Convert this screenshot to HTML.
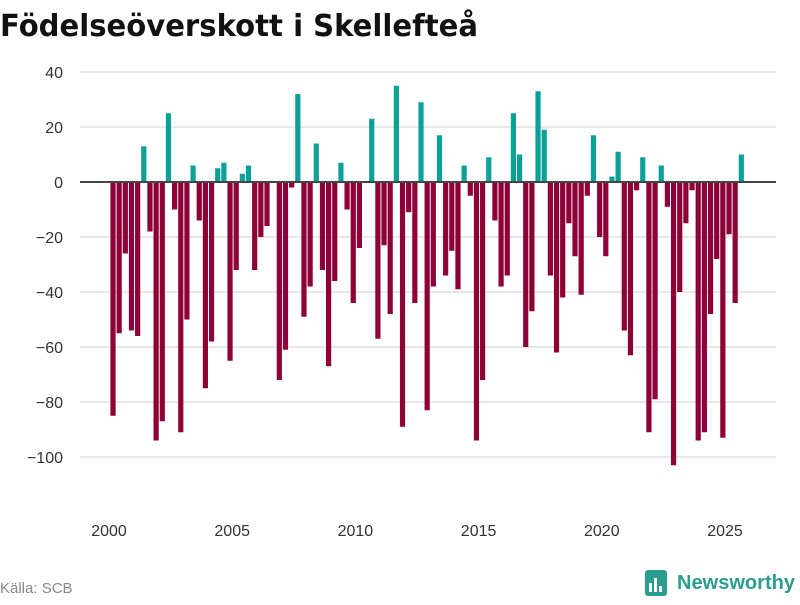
<!DOCTYPE html>
<html><head><meta charset="utf-8">
<style>
body{margin:0;width:800px;height:600px;background:#fff;font-family:"Liberation Sans","DejaVu Sans",sans-serif;overflow:hidden}
</style></head>
<body>
<svg width="800" height="600" xmlns="http://www.w3.org/2000/svg">
<text x="0" y="36" font-size="30" font-weight="bold" fill="#111" font-family="DejaVu Sans, sans-serif" textLength="478" lengthAdjust="spacingAndGlyphs">Födelseöverskott i Skellefteå</text>
<g id="grid"></g>
<g id="bars"></g>
<line x1="80" x2="776" y1="182" y2="182" stroke="#444" stroke-width="2"/>
<g id="xt"></g>
<text x="0" y="593" font-size="15" fill="#888">Källa: SCB</text>
<g>
<rect x="645" y="570" width="22" height="26" rx="3" fill="#2a9d8f"/>
<rect x="649" y="583" width="3" height="9" fill="#fff"/><rect x="654" y="578" width="3" height="14" fill="#fff"/><rect x="659" y="586" width="3" height="6" fill="#fff"/>
<text x="677" y="589" font-size="20" font-weight="bold" fill="#2a9d8f" textLength="118" lengthAdjust="spacingAndGlyphs">Newsworthy</text>
</g>
</svg>
<script>
const values=[-85,-55,-26,-54,-56,13,-18,-94,-87,25,-10,-91,-50,6,-14,-75,-58,5,7,-65,-32,3,6,-32,-20,-16,0,-72,-61,-2,32,-49,-38,14,-32,-67,-36,7,-10,-44,-24,0,23,-57,-23,-48,35,-89,-11,-44,29,-83,-38,17,-34,-25,-39,6,-5,-94,-72,9,-14,-38,-34,25,10,-60,-47,33,19,-34,-62,-42,-15,-27,-41,-5,17,-20,-27,2,11,-54,-63,-3,9,-91,-79,6,-9,-103,-40,-15,-3,-94,-91,-48,-28,-93,-19,-44,10];
const startYear=2000;
const yTicks=[40,20,0,-20,-40,-60,-80,-100];
const xTicks=[2000,2005,2010,2015,2020,2025];
const NS="http://www.w3.org/2000/svg";
function y(v){return 182-v*2.75;}
function x(t){return 109+(t-2000)*24.64;}
const grid=document.getElementById('grid');
yTicks.forEach(t=>{
 const l=document.createElementNS(NS,'line');
 l.setAttribute('x1',80);l.setAttribute('x2',776);l.setAttribute('y1',y(t));l.setAttribute('y2',y(t));
 l.setAttribute('stroke','#e0e0e0');l.setAttribute('stroke-width','1.5');
 
 
 grid.appendChild(l);
 const tx=document.createElementNS(NS,'text');
 tx.setAttribute('x',63);tx.setAttribute('y',y(t)+6);tx.setAttribute('text-anchor','end');
 tx.setAttribute('font-size','16');tx.setAttribute('fill','#333');
 tx.textContent=t<0?'−'+(-t):String(t);
 
 
 grid.appendChild(tx);
});
const bars=document.getElementById('bars');
values.forEach((v,i)=>{
 const cx=x(startYear+(i+0.65)/4);
 const r=document.createElementNS(NS,'rect');
 r.setAttribute('x',cx-2.6);r.setAttribute('width',5.2);
 r.setAttribute('y',Math.min(y(v),y(0)));r.setAttribute('height',Math.abs(y(v)-y(0)));
 r.setAttribute('fill',v>=0?'#0ba197':'#8e0038');
 
 
 bars.appendChild(r);
});
const xt=document.getElementById('xt');
xTicks.forEach(t=>{
 const tx=document.createElementNS(NS,'text');
 tx.setAttribute('x',x(t));tx.setAttribute('y',536);tx.setAttribute('text-anchor','middle');
 tx.setAttribute('font-size','16');tx.setAttribute('fill','#333');
 tx.textContent=t;
 
 
 xt.appendChild(tx);
});
</script>
</body></html>
